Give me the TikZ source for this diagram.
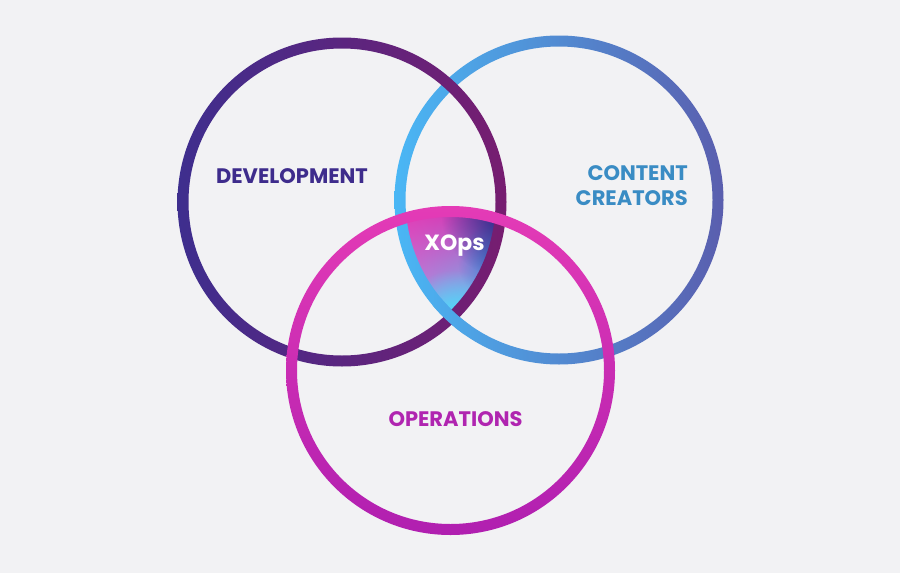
\documentclass[tikz,border=0pt]{standalone}
\usepackage{fontspec}
\setmainfont{Poppins}
\usetikzlibrary{shadings,fadings}
\definecolor{bgc}{HTML}{F2F2F4}
\definecolor{dv1}{HTML}{3E2E8E}
\definecolor{dv2}{HTML}{771D70}
\definecolor{bl1}{HTML}{4AB7F5}
\definecolor{bl2}{HTML}{5A5EAE}
\definecolor{pk1}{HTML}{E43BB6}
\definecolor{pk2}{HTML}{B01FB0}
\definecolor{xpink}{HTML}{E53AB5}
\definecolor{xpurp}{HTML}{C63CB6}
\definecolor{xnavy}{HTML}{1C2C86}
\definecolor{xblue}{HTML}{3A78D0}
\definecolor{xlav}{HTML}{B88AE2}
\definecolor{xcyan}{HTML}{4ADCFB}
\definecolor{tdev}{HTML}{3E2C8C}
\definecolor{tcon}{HTML}{3A8CC4}
\definecolor{tops}{HTML}{B025B0}
\tikzfading[name=blobfade, inner color=transparent!0, outer color=transparent!100]
\tikzset{
  lab/.style={font=\bfseries\fontsize{21}{25}\selectfont, inner sep=0pt},
  ring/.style={even odd rule}
}
\begin{document}
\begin{tikzpicture}[x=1pt,y=-1pt]
\fill[bgc] (0,0) rectangle (900,573);
\useasboundingbox (0,0) rectangle (900,573);
\coordinate (cd) at (342,202);
\coordinate (cc) at (559,200);
\coordinate (co) at (450.5,370.5);
\coordinate (cross) at (451,317);
\coordinate (navyc) at (503,214);
\coordinate (bluec) at (498,262);
\coordinate (cyanc) at (452,318);
% XOps region
\begin{scope}
  \clip (cd) circle[radius=159pt];
  \clip (cc) circle[radius=159pt];
  \clip (co) circle[radius=159pt];
  \shade[upper left=xpink, upper right=xpurp, lower left=xlav, lower right=xcyan]
    (400,210) rectangle (500,314);
  \fill[xcyan, path fading=blobfade] (cyanc) circle[radius=48pt];
  \fill[xblue, path fading=blobfade] (bluec) circle[radius=40pt];
  \fill[xnavy, path fading=blobfade] (navyc) circle[radius=62pt];
\end{scope}
% rings
\shade[ring, left color=bl1, right color=bl2]
  (cc) circle[radius=164.5pt] (cc) circle[radius=153.5pt];
\shade[ring, left color=dv1, right color=dv2]
  (cd) circle[radius=164.5pt] (cd) circle[radius=153.5pt];
\begin{scope}
  \clip (cross) circle[radius=22pt];
  \shade[ring, left color=bl1, right color=bl2]
    (cc) circle[radius=164.5pt] (cc) circle[radius=153.5pt];
\end{scope}
\shade[ring, top color=pk1, bottom color=pk2]
  (co) circle[radius=164.5pt] (co) circle[radius=153.5pt];
% labels
\node[lab, text=tdev] (dev) at (292,176) {DEVELOPMENT};
\node[lab, text=tcon, align=right, anchor=east] (con) at (688,186) {CONTENT\\CREATORS};
\node[lab, text=tops] (ops) at (455.5,419) {OPERATIONS};
\node[lab, text=white, font=\bfseries\fontsize{22}{26}\selectfont] (xops) at (454.5,246) {XOps};
\end{tikzpicture}
\end{document}
